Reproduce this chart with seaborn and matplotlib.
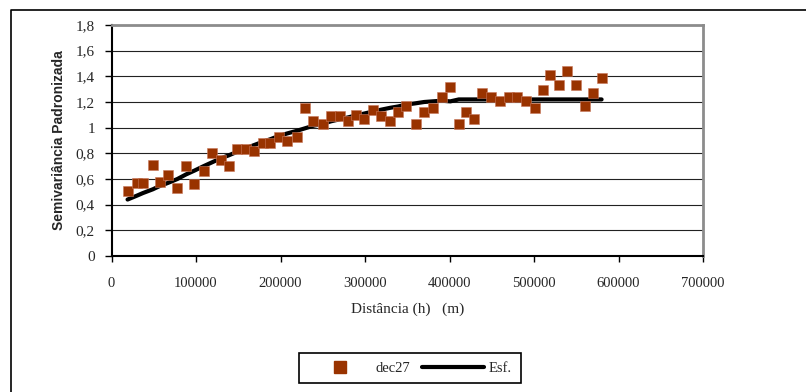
import matplotlib
matplotlib.use("Agg")
import matplotlib.pyplot as plt
import seaborn as sns
from matplotlib.lines import Line2D

# lag distances (m) and standardized semivariance
distancia = [19000, 30000, 37000, 49000, 57000, 67000, 78000, 88000, 98000, 109000,
             119000, 129000, 139000, 148000, 159000, 169000, 179000, 188000, 198000, 208000,
             219000, 229000, 239000, 250000, 260000, 270000, 280000, 289000, 299000, 309000,
             319000, 330000, 339000, 349000, 360000, 370000, 380000, 391000, 401000, 411000,
             419000, 429000, 439000, 449000, 460000, 470000, 480000, 490000, 501000, 511000,
             519000, 530000, 539000, 550000, 560000, 570000, 580000]
dec27 = [0.51, 0.57, 0.57, 0.71, 0.58, 0.63, 0.53, 0.70, 0.56, 0.66,
         0.80, 0.75, 0.70, 0.83, 0.83, 0.82, 0.88, 0.88, 0.93, 0.90,
         0.93, 1.15, 1.05, 1.03, 1.09, 1.09, 1.05, 1.10, 1.07, 1.14,
         1.09, 1.05, 1.12, 1.17, 1.03, 1.12, 1.15, 1.24, 1.32, 1.03,
         1.12, 1.07, 1.27, 1.24, 1.21, 1.24, 1.24, 1.21, 1.15, 1.29,
         1.41, 1.33, 1.44, 1.33, 1.17, 1.27, 1.39]
# spherical model curve, read at the same lags
esf = [0.44, 0.47, 0.49, 0.52, 0.545, 0.57, 0.60, 0.635, 0.665, 0.70,
       0.73, 0.76, 0.785, 0.81, 0.84, 0.865, 0.89, 0.91, 0.935, 0.955,
       0.975, 0.995, 1.015, 1.03, 1.05, 1.065, 1.08, 1.095, 1.11, 1.125,
       1.14, 1.155, 1.165, 1.18, 1.19, 1.20, 1.205, 1.21, 1.205, 1.22,
       1.22, 1.22, 1.22, 1.22, 1.22, 1.22, 1.22, 1.22, 1.22, 1.22,
       1.22, 1.22, 1.22, 1.22, 1.22, 1.22, 1.22]

yticks = [0, 0.2, 0.4, 0.6, 0.8, 1.0, 1.2, 1.4, 1.6, 1.8]
ylabels = ["0", "0,2", "0,4", "0,6", "0,8", "1", "1,2", "1,4", "1,6", "1,8"]
xticks = [0, 100000, 200000, 300000, 400000, 500000, 600000, 700000]
xlabels = ["0", "100000", "200000", "300000", "400000", "500000", "600000", "700000"]

sns.set_style("white")
plt.rcParams['font.family'] = ['Liberation Serif', 'DejaVu Serif']

fig = plt.figure(figsize=(8.06, 3.92), dpi=100)
ax = fig.add_axes([111.5 / 806, 1 - 256 / 392, (703 - 111.5) / 806, (256 - 25) / 392])

# horizontal grid
ax.yaxis.grid(True, color='#222222', lw=0.8)
ax.set_axisbelow(True)

sns.lineplot(x=distancia, y=esf, color='black', lw=3, ax=ax, zorder=2, legend=False)
sns.scatterplot(x=distancia, y=dec27, marker='s', s=62, color='#993300',
                edgecolor='#c8775a', linewidth=0.4, ax=ax, zorder=3, legend=False)

ax.set_xlim(0, 700000)
ax.set_ylim(0, 1.8)
ax.set_xticks(xticks)
ax.set_xticklabels(xlabels, fontsize=10.5)
ax.set_yticks(yticks)
ax.set_yticklabels(ylabels, fontsize=11)
ax.tick_params(axis='y', direction='out', length=5, width=1, pad=7, color='black', left=True)
ax.tick_params(axis='x', direction='out', length=4, width=1, pad=11, color='black', bottom=True)

for s in ['left', 'bottom']:
    ax.spines[s].set_color('black')
    ax.spines[s].set_linewidth(1.5)
for s in ['top', 'right']:
    ax.spines[s].set_color('#8c8c8c')
    ax.spines[s].set_linewidth(2)

ax.set_xlabel("Distância (h)   (m)", fontsize=11, labelpad=9)
ax.set_ylabel("Semivariância Padronizada", fontsize=10, fontweight='bold',
              family=['Liberation Sans', 'DejaVu Sans'], labelpad=7)

handles = [Line2D([], [], marker='s', color='#993300', ls='none', markersize=8),
           Line2D([], [], color='black', lw=3)]
leg = fig.legend(handles, ['dec27', 'Esf.'], ncol=2, loc='center',
                 bbox_to_anchor=(410 / 806, 1 - 368 / 392), fontsize=10.5,
                 frameon=True, fancybox=False, edgecolor='black', framealpha=1,
                 handlelength=4.3, handletextpad=0.3, columnspacing=0.8, borderpad=0.6)
leg.get_frame().set_linewidth(1.2)

# outer chart border (top and left edges visible)
fig.add_artist(Line2D([11 / 806, 11 / 806, 1.0], [0.0, 1 - 10 / 392, 1 - 10 / 392],
                      color='black', lw=1.2, transform=fig.transFigure))

fig.savefig("out.png", dpi=100)
